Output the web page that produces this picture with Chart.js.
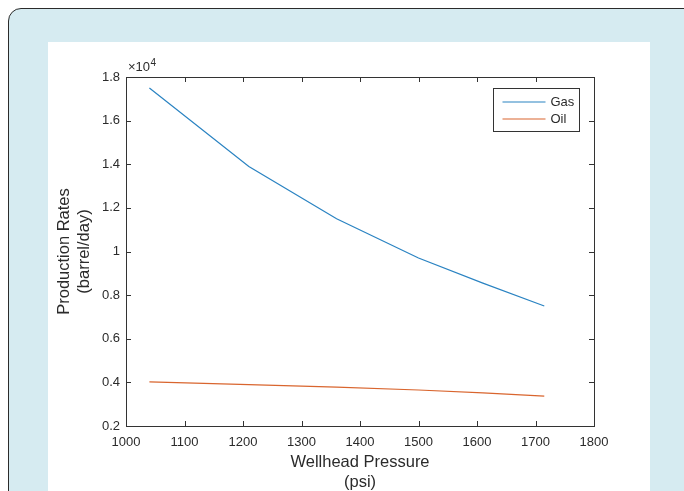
<!DOCTYPE html>
<html>
<head>
<meta charset="utf-8">
<script src="https://cdn.jsdelivr.net/npm/chart.js@4.4.1/dist/chart.umd.min.js"></script>
<style>
  html, body { margin: 0; padding: 0; }
  body { width: 684px; height: 491px; overflow: hidden; background: #ffffff; position: relative; font-family: "Liberation Sans", Arial, sans-serif; }
  #frame { position: absolute; left: 8px; top: 8px; width: 720px; height: 560px; border: 1.5px solid #2b2b2b; border-radius: 13px; background: #d6ebf1; }
  #fig { position: absolute; left: 48px; top: 42px; width: 602px; height: 460px; background: #ffffff; }
  canvas { display: block; }
</style>
</head>
<body>
<div id="frame"></div>
<div id="fig"><canvas id="c" width="602" height="460"></canvas></div>
<script>
// ---- data ----
const pressure = [1040, 1210, 1360, 1500, 1610, 1715];          // psi
const gasRate  = [17500, 13900, 11500, 9700, 8550, 7500];       // barrel/day
const oilRate  = [4020, 3900, 3780, 3650, 3520, 3370];          // barrel/day
const seriesLabels = ['Gas', 'Oil'];
const xTickValues = [1000, 1100, 1200, 1300, 1400, 1500, 1600, 1700, 1800];
const yTickValues = [2000, 4000, 6000, 8000, 10000, 12000, 14000, 16000, 18000];
const xTitle = ['Wellhead Pressure', '(psi)'];
const yTitle = ['Production Rates', '(barrel/day)'];

const FONT = '"Liberation Sans", Arial, Helvetica, sans-serif';
const AXIS_COLOR = '#333333';
const TEXT_COLOR = '#2b2b2b';

function toPoints(xs, ys) { return xs.map((x, i) => ({ x: x, y: ys[i] })); }

// Inward ticks, full box, exponent label and legend (MATLAB style)
const matlabDecor = {
  id: 'matlabDecor',
  afterDatasetsDraw(chart) {
    const ctx = chart.ctx;
    const a = chart.chartArea;
    const xs = chart.scales.x, ys = chart.scales.y;
    const tl = 5;
    ctx.save();
    ctx.strokeStyle = AXIS_COLOR;
    ctx.lineWidth = 1;
    // box
    ctx.strokeRect(Math.round(a.left) + 0.5, Math.round(a.top) + 0.5,
                   Math.round(a.right - a.left), Math.round(a.bottom - a.top));
    ctx.beginPath();
    xs.ticks.forEach(t => {
      const px = Math.round(xs.getPixelForValue(t.value)) + 0.5;
      ctx.moveTo(px, a.bottom); ctx.lineTo(px, a.bottom - tl);
      ctx.moveTo(px, a.top); ctx.lineTo(px, a.top + tl);
    });
    ys.ticks.forEach(t => {
      const py = Math.round(ys.getPixelForValue(t.value)) + 0.5;
      ctx.moveTo(a.left, py); ctx.lineTo(a.left + tl, py);
      ctx.moveTo(a.right, py); ctx.lineTo(a.right - tl, py);
    });
    ctx.stroke();

    // exponent label "×10^4"
    ctx.fillStyle = TEXT_COLOR;
    ctx.textBaseline = 'alphabetic';
    ctx.textAlign = 'left';
    ctx.font = '13px ' + FONT;
    const ex = a.left + 2, ey = a.top - 6;
    ctx.fillText('\u00d710', ex, ey);
    const w = ctx.measureText('\u00d710').width;
    ctx.font = '10px ' + FONT;
    ctx.fillText('4', ex + w + 0.5, ey - 5);

    // legend
    const bw = 86, bh = 43;
    const bx = Math.round(a.right - 15 - bw) + 0.5, by = Math.round(a.top + 11) + 0.5;
    ctx.fillStyle = '#ffffff';
    ctx.fillRect(bx, by, bw, bh);
    ctx.strokeStyle = AXIS_COLOR;
    ctx.strokeRect(bx, by, bw, bh);
    ctx.font = '13px ' + FONT;
    ctx.textBaseline = 'middle';
    chart.data.datasets.forEach((ds, i) => {
      const ly = by + 13.5 + i * 17;
      ctx.strokeStyle = ds.borderColor;
      ctx.lineWidth = 1.2;
      ctx.beginPath();
      ctx.moveTo(bx + 9, ly); ctx.lineTo(bx + 52, ly);
      ctx.stroke();
      ctx.fillStyle = TEXT_COLOR;
      ctx.fillText(ds.label, bx + 57, ly + 0.5);
    });
    ctx.restore();
  }
};

new Chart(document.getElementById('c'), {
  type: 'line',
  data: {
    datasets: [
      { label: seriesLabels[0], data: toPoints(pressure, gasRate), borderColor: '#2a83c2', borderWidth: 1.2, pointRadius: 0, tension: 0, fill: false },
      { label: seriesLabels[1], data: toPoints(pressure, oilRate), borderColor: '#d9652e', borderWidth: 1.2, pointRadius: 0, tension: 0, fill: false }
    ]
  },
  options: {
    responsive: false,
    animation: false,
    maintainAspectRatio: false,
    layout: { padding: { left: 0, top: 35, right: 56, bottom: 0 } },
    plugins: { legend: { display: false }, tooltip: { enabled: false } },
    scales: {
      x: {
        type: 'linear', min: 1000, max: 1800,
        afterBuildTicks(s) { s.ticks = xTickValues.map(v => ({ value: v })); },
        afterFit(s) { s.height = 76; s.paddingLeft = 0; s.paddingRight = 0; },
        grid: { display: false, drawTicks: false },
        border: { display: false },
        ticks: { padding: 9, color: TEXT_COLOR, font: { family: FONT, size: 13 }, maxRotation: 0, autoSkip: false,
                 callback: v => String(v) },
        title: { display: true, text: xTitle, color: TEXT_COLOR, font: { family: FONT, size: 16.5, lineHeight: 1.24 }, padding: { top: 0, bottom: 9 } }
      },
      y: {
        type: 'linear', min: 2000, max: 18000,
        afterBuildTicks(s) { s.ticks = yTickValues.map(v => ({ value: v })); },
        afterFit(s) { s.width = 78; s.paddingTop = 0; s.paddingBottom = 0; },
        grid: { display: false, drawTicks: false },
        border: { display: false },
        ticks: { padding: 6, color: TEXT_COLOR, font: { family: FONT, size: 13 }, autoSkip: false,
                 callback: v => String(Math.round(v / 1000) / 10) },
        title: { display: true, text: yTitle, color: TEXT_COLOR, font: { family: FONT, size: 16.5, lineHeight: 1.24 }, padding: { top: 6, bottom: 0 } }
      }
    }
  },
  plugins: [matlabDecor]
});
</script>
</body>
</html>
